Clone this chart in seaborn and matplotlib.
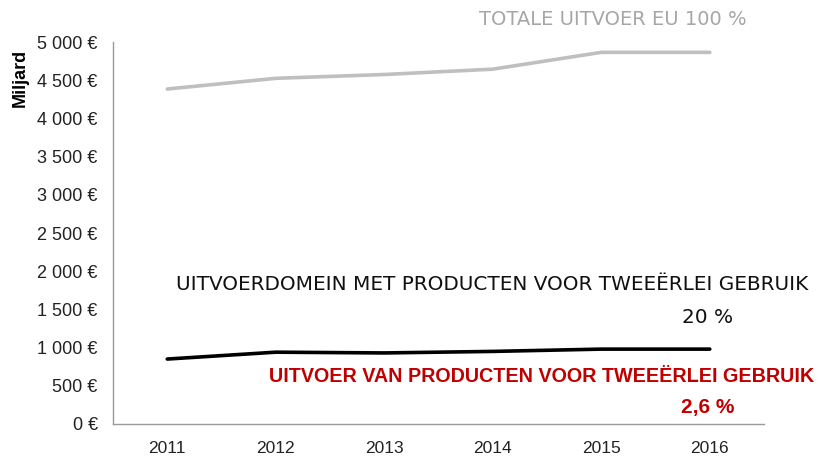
import numpy as np
import pandas as pd
import matplotlib
matplotlib.use("Agg")
import matplotlib.pyplot as plt
from matplotlib.ticker import FuncFormatter, FixedLocator
import seaborn as sns

years = ["2011", "2012", "2013", "2014", "2015", "2016"]
totale_uitvoer = [4385, 4525, 4575, 4645, 4865, 4865]
uitvoerdomein = [850, 940, 930, 950, 980, 980]

sns.set_style("white")
plt.rcParams["font.family"] = ["Liberation Sans", "DejaVu Sans"]

df = pd.DataFrame({
    "pos": list(range(len(years))) * 2,
    "waarde": totale_uitvoer + uitvoerdomein,
    "reeks": ["totaal"] * len(years) + ["domein"] * len(years),
})

fig = plt.figure(figsize=(8.22, 4.62), dpi=100)
ax = fig.add_axes([0.1375, 0.0823, 0.792, 0.8267])

sns.lineplot(data=df, x="pos", y="waarde", hue="reeks",
             palette={"totaal": "#bfbfbf", "domein": "#000000"},
             linewidth=2.6, legend=False, ax=ax)

ax.set_xlim(-0.5, len(years) - 0.5)
ax.set_ylim(0, 5000)
ax.set_yticks(np.arange(0, 5001, 500))
ax.yaxis.set_major_formatter(FuncFormatter(
    lambda v, p: f"{int(v):,}".replace(",", " ") + " €"))
ax.set_xticks(range(len(years)))
ax.set_xticklabels(years)
ax.xaxis.set_minor_locator(FixedLocator(np.arange(-0.5, len(years), 1.0)))
ax.tick_params(axis="x", which="major", length=0, pad=12, labelsize=12.5, colors="#222222")
ax.tick_params(axis="x", which="minor", length=6, width=1, color="#999999", direction="out")
ax.tick_params(axis="y", length=6, width=1, color="#999999", direction="out",
               labelsize=13, labelcolor="#222222", pad=5)
ax.set_xlabel("")
ax.set_ylabel("")

for s in ["top", "right"]:
    ax.spines[s].set_visible(False)
for s in ["left", "bottom"]:
    ax.spines[s].set_color("#999999")
    ax.spines[s].set_linewidth(1)

fig.text(0.025, 0.831, "Miljard", rotation=90, ha="center", va="center",
         fontsize=13, fontweight="bold", color="#000000")

fig.text(0.745, 0.957, "TOTALE UITVOER EU 100 %", ha="center", va="center",
         fontsize=14, color="#a6a6a6", family="DejaVu Sans")
fig.text(0.599, 0.385, "UITVOERDOMEIN MET PRODUCTEN VOOR TWEEËRLEI GEBRUIK",
         ha="center", va="center", fontsize=14.4, color="#111111", family="DejaVu Sans")
fig.text(0.861, 0.312, "20 %", ha="center", va="center", fontsize=14.4,
         color="#111111", family="DejaVu Sans")
fig.text(0.659, 0.184, "UITVOER VAN PRODUCTEN VOOR TWEEËRLEI GEBRUIK",
         ha="center", va="center", fontsize=14.2, fontweight="bold", color="#c00000")
fig.text(0.861, 0.119, "2,6 %", ha="center", va="center", fontsize=15,
         fontweight="bold", color="#c00000")

fig.savefig("out.png", dpi=100, facecolor="white")
